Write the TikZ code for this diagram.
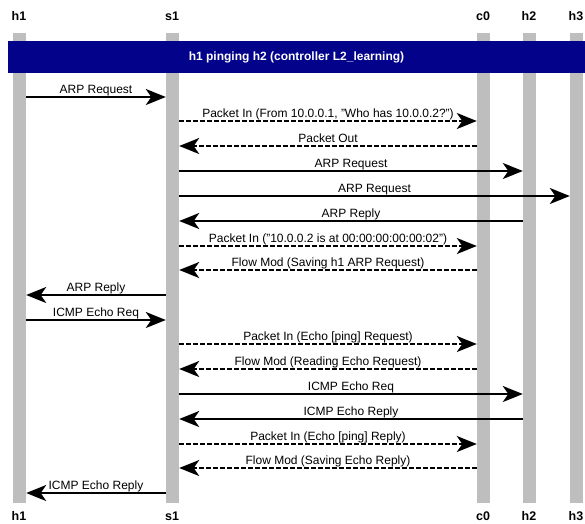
\documentclass[tikz,border=0pt]{standalone}
\usepackage{fontspec}
\setmainfont{Liberation Sans}
\usetikzlibrary{arrows.meta}
\definecolor{lanegray}{RGB}{190,190,190}
\definecolor{bandblue}{RGB}{2,2,138}
\begin{document}
\begin{tikzpicture}[x=1pt,y=-1pt,
  lifeline/.style={fill=lanegray, draw=none, minimum width=13pt, minimum height=470pt, inner sep=0pt},
  actor/.style={font=\bfseries\fontsize{12.5}{14}\selectfont, inner sep=0pt},
  msg/.style={line width=2pt, -{Stealth[length=20pt,width=16pt,inset=5.5pt]}},
  ctl/.style={msg, line width=1.8pt, dash pattern=on 4.5pt off 2.5pt},
  lbl/.style={font=\fontsize{12}{14}\selectfont, anchor=base, yshift=3.5pt, inner sep=0pt}
]
\useasboundingbox (0,0) rectangle (585,523);
\fill[white] (0,0) rectangle (585,523);

% lifelines
\node[lifeline] (h1L) at (19.5,268) {};
\node[lifeline] (s1L) at (172.5,268) {};
\node[lifeline] (c0L) at (483.5,268) {};
\node[lifeline] (h2L) at (529.5,268) {};
\node[lifeline] (h3L) at (576.5,268) {};

% participant names, top and bottom
\foreach \p/\x in {h1/19, s1/172, c0/483, h2/529, h3/576} {
  \node[actor] (\p top) at (\x,16) {\p};
  \node[actor] (\p bot) at (\x,516) {\p};
}

% title band
\node[fill=bandblue, minimum width=577pt, minimum height=32pt, inner sep=0pt,
      text=white, font=\bfseries\fontsize{12}{14}\selectfont] (title) at (296.5,57)
      {h1 pinging h2 (controller L2\_learning)};

% message rows
\foreach \n/\y in {1/97, 2/121, 3/146, 4/171, 5/196, 6/221, 7/246, 8/270, 9/295,
                   10/320, 11/344, 12/369, 13/394, 14/419, 15/444, 16/468, 17/493}
  \coordinate (m\n) at (0,\y);

\draw[msg] (h1L.east |- m1) -- node[lbl] {ARP Request} (s1L.west |- m1);
\draw[ctl] (s1L.east |- m2) -- node[lbl] {Packet In (From 10.0.0.1, "Who has 10.0.0.2?")} (c0L.west |- m2);
\draw[ctl] (c0L.west |- m3) -- node[lbl] {Packet Out} (s1L.east |- m3);
\draw[msg] (s1L.east |- m4) -- node[lbl] {ARP Request} (h2L.west |- m4);
\draw[msg] (s1L.east |- m5) -- node[lbl] {ARP Request} (h3L.west |- m5);
\draw[msg] (h2L.west |- m6) -- node[lbl] {ARP Reply} (s1L.east |- m6);
\draw[ctl] (s1L.east |- m7) -- node[lbl] {Packet In ("10.0.0.2 is at 00:00:00:00:00:02")} (c0L.west |- m7);
\draw[ctl] (c0L.west |- m8) -- node[lbl] {Flow Mod (Saving h1 ARP Request)} (s1L.east |- m8);
\draw[msg] (s1L.west |- m9) -- node[lbl] {ARP Reply} (h1L.east |- m9);
\draw[msg] (h1L.east |- m10) -- node[lbl] {ICMP Echo Req} (s1L.west |- m10);
\draw[ctl] (s1L.east |- m11) -- node[lbl] {Packet In (Echo [ping] Request)} (c0L.west |- m11);
\draw[ctl] (c0L.west |- m12) -- node[lbl] {Flow Mod (Reading Echo Request)} (s1L.east |- m12);
\draw[msg] (s1L.east |- m13) -- node[lbl] {ICMP Echo Req} (h2L.west |- m13);
\draw[msg] (h2L.west |- m14) -- node[lbl] {ICMP Echo Reply} (s1L.east |- m14);
\draw[ctl] (s1L.east |- m15) -- node[lbl] {Packet In (Echo [ping] Reply)} (c0L.west |- m15);
\draw[ctl] (c0L.west |- m16) -- node[lbl] {Flow Mod (Saving Echo Reply)} (s1L.east |- m16);
\draw[msg] (s1L.west |- m17) -- node[lbl] {ICMP Echo Reply} (h1L.east |- m17);
\end{tikzpicture}
\end{document}
